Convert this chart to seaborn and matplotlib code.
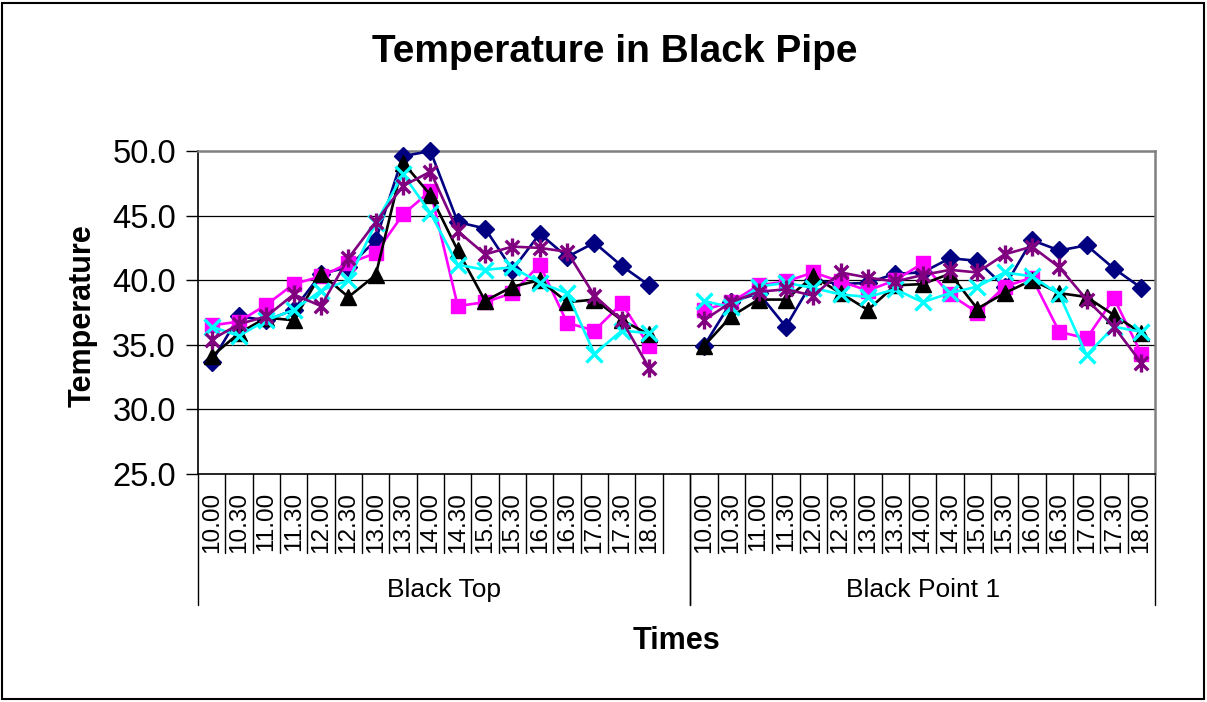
import numpy as np
import pandas as pd
import matplotlib
matplotlib.use("Agg")
import matplotlib.pyplot as plt
import matplotlib.transforms as mtransforms
from matplotlib.path import Path
from matplotlib.patches import Rectangle
import seaborn as sns

# ---- data -----------------------------------------------------------------
times = ["10.00", "10.30", "11.00", "11.30", "12.00", "12.30", "13.00", "13.30",
         "14.00", "14.30", "15.00", "15.30", "16.00", "16.30", "17.00", "17.30", "18.00"]
groups = ["Black Top", "Black Point 1"]
series_names = ["Series1", "Series2", "Series3", "Series4", "Series5"]

s1_top = [33.7, 37.2, 36.9, 37.7, 40.5, 41.0, 43.1, 49.6, 50.0, 44.5, 44.0, 40.8, 43.6, 41.8, 42.9, 41.1, 39.6]
s1_point = [34.9, 38.3, 39.0, 36.4, 40.0, 39.7, 39.8, 40.5, 40.6, 41.7, 41.5, 39.5, 43.1, 42.3, 42.7, 40.9, 39.4]

s2_top = [36.5, 36.8, 38.1, 39.7, 40.3, 41.3, 42.1, 45.1, 46.9, 38.0, 38.3, 39.0, 41.2, 36.7, 36.1, 38.2, 34.9]
s2_point = [37.7, 38.3, 39.6, 39.9, 40.6, 39.9, 39.2, 40.0, 41.3, 38.9, 37.5, 39.5, 40.2, 36.0, 35.5, 38.6, 34.3]

s3_top = [34.1, 35.9, 37.1, 36.9, 40.5, 38.7, 40.4, 49.1, 46.6, 42.3, 38.4, 39.5, 40.0, 38.3, 38.5, 36.9, 35.8]
s3_point = [34.9, 37.2, 38.5, 38.5, 40.3, 39.0, 37.7, 39.6, 39.7, 40.5, 37.8, 39.0, 40.0, 39.0, 38.7, 37.3, 35.9]

s4_top = [36.4, 35.7, 36.9, 37.7, 39.2, 40.0, 44.4, 48.2, 45.2, 41.2, 40.8, 41.0, 39.8, 39.0, 34.3, 36.1, 35.9]
s4_point = [38.4, 37.9, 39.5, 39.8, 39.4, 38.9, 38.7, 39.3, 38.3, 39.0, 39.5, 40.6, 40.3, 38.9, 34.2, 36.4, 36.0]

s5_top = [35.4, 36.6, 37.2, 38.9, 38.0, 41.7, 44.5, 47.3, 48.4, 43.8, 42.0, 42.6, 42.5, 42.2, 38.8, 36.9, 33.2]
s5_point = [36.9, 38.3, 39.1, 39.3, 38.8, 40.6, 40.2, 39.9, 40.4, 40.8, 40.6, 42.0, 42.6, 41.0, 38.5, 36.4, 33.6]

values = {
    "Series1": [s1_top, s1_point],
    "Series2": [s2_top, s2_point],
    "Series3": [s3_top, s3_point],
    "Series4": [s4_top, s4_point],
    "Series5": [s5_top, s5_point],
}

# each group occupies its categories; the first group carries one extra empty slot
slots = [len(times) + 1, len(times)]
starts = [0, slots[0]]

rows = []
for name in series_names:
    for g, (grp, start) in enumerate(zip(groups, starts)):
        for i, t in enumerate(times):
            rows.append({"series": name, "group": grp, "time": t,
                         "pos": start + i, "temp": values[name][g][i]})
df = pd.DataFrame(rows)

# ---- styles -----------------------------------------------------------------
asterisk = Path([(0, -1), (0, 1), (-0.75, -0.75), (0.75, 0.75), (-0.75, 0.75), (0.75, -0.75)],
                [Path.MOVETO, Path.LINETO, Path.MOVETO, Path.LINETO, Path.MOVETO, Path.LINETO])
styles = {
    "Series1": dict(color="#000080", marker="D", markersize=9, mfc="#000080", mew=1),
    "Series2": dict(color="#FF00FF", marker="s", markersize=10, mfc="#FF00FF", mew=1),
    "Series3": dict(color="#000000", marker="^", markersize=11, mfc="#000000", mew=1),
    "Series4": dict(color="#00FFFF", marker="x", markersize=11.5, mfc="none", mew=2.4),
    "Series5": dict(color="#800080", marker=asterisk, markersize=13, mfc="none", mew=2.4),
}

sns.set_style("white")
plt.rcParams["font.family"] = ["Liberation Sans", "DejaVu Sans"]
plt.rcParams["text.color"] = "black"
plt.rcParams["axes.labelcolor"] = "black"
plt.rcParams["xtick.color"] = "black"
plt.rcParams["ytick.color"] = "black"

fig = plt.figure(figsize=(12.07, 7.02), dpi=100)
ax = fig.add_axes([198 / 1207, 1 - 474 / 702, 957 / 1207, 323 / 702])

for z, name in enumerate(series_names):
    st = styles[name]
    for grp in groups:
        sub = df[(df["series"] == name) & (df["group"] == grp)]
        sns.lineplot(data=sub, x="pos", y="temp", ax=ax, color=st["color"],
                     linewidth=1.9, marker=st["marker"], markersize=st["markersize"],
                     markerfacecolor=st["mfc"], markeredgecolor=st["color"],
                     markeredgewidth=st["mew"], estimator=None, sort=False,
                     errorbar=None, legend=False, zorder=3 + z, clip_on=False)

# ---- axes -------------------------------------------------------------------
total = sum(slots)
ax.set_xlim(-0.5, total - 0.5)
ax.set_ylim(25, 50)
ax.set_yticks(np.arange(25, 50.1, 5))
ax.set_yticklabels([f"{v:.1f}" for v in np.arange(25, 50.1, 5)], fontsize=23.5)
ax.tick_params(axis="y", length=9, width=1, color="black", pad=7, left=True)
for v in np.arange(30, 50, 5):
    ax.axhline(v, color="black", lw=0.9, zorder=1)

positions = df[df["series"] == series_names[0]]["pos"].tolist()
labels = df[df["series"] == series_names[0]]["time"].tolist()
ax.set_xticks(positions)
ax.set_xticklabels(labels, rotation=90, fontsize=17.5)
ax.tick_params(axis="x", length=0, pad=13)

ax.set_xlabel("Times", fontsize=22, fontweight="bold")
ax.xaxis.set_label_coords(0.5, -0.47)
ax.set_ylabel("Temperature", fontsize=22, fontweight="bold")
ax.yaxis.set_label_coords(-0.105, 0.49)

for side in ["left", "bottom"]:
    ax.spines[side].set_color("black")
    ax.spines[side].set_linewidth(1.2)
for side in ["top", "right"]:
    ax.spines[side].set_color("#808080")
    ax.spines[side].set_linewidth(1.8)

# category and group dividers below the axis
trans = mtransforms.blended_transform_factory(ax.transData, ax.transAxes)
for start, n in zip(starts, slots):
    for b in np.arange(start - 0.5, start + n, 1.0):
        is_edge = (b == start - 0.5) or (b == start + n - 0.5)
        ax.plot([b, b], [0, -0.406 if is_edge else -0.245], transform=trans,
                color="black", lw=1, clip_on=False)
for grp, start, n in zip(groups, starts, slots):
    ax.text(start - 0.5 + n / 2, -0.36, grp, transform=trans, ha="center",
            va="center", fontsize=19)

fig.text(615 / 1207, 1 - 52 / 702, "Temperature in Black Pipe", ha="center",
         va="center", fontsize=28, fontweight="bold")

fig.add_artist(Rectangle((2 / 1207, 3 / 702), 1202 / 1207, 696 / 702,
                         transform=fig.transFigure, fill=False, ec="black", lw=1.5))

fig.savefig("out.png", dpi=100, facecolor="white")
